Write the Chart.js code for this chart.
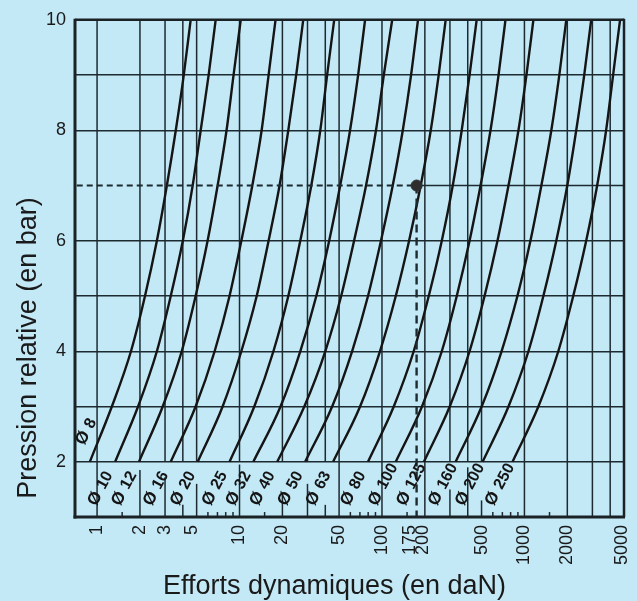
<!DOCTYPE html>
<html>
<head>
<meta charset="utf-8">
<script src="https://cdn.jsdelivr.net/npm/chart.js@4.4.1/dist/chart.umd.min.js"></script>
<style>
html,body{margin:0;padding:0;background:#c3e8f6;}
canvas{display:block;}
</style>
</head>
<body>
<canvas id="c" width="637" height="601"></canvas>
<script>
// ---------- data ----------
const pressures = [2, 3, 4, 5, 6, 7, 8, 9, 10];            // bar
const diameters = [8, 10, 12, 16, 20, 25, 32, 40, 50, 63, 80, 100, 125, 160, 200, 250];
// dynamic force (daN) of each cylinder at the pressures above
const f8   = [0.89, 1.27, 1.73, 2.17, 2.63, 3.09, 3.57, 4.06, 4.54];
const f10  = [1.34, 1.94, 2.63, 3.29, 4.00, 4.69, 5.34, 6.07, 6.80];
const f12  = [1.97, 2.89, 3.93, 4.92, 5.97, 7.02, 8.11, 9.08, 10.2];
const f16  = [3.29, 4.92, 6.69, 8.51, 10.3, 12.3, 14.3, 16.0, 17.9];
const f20  = [5.09, 7.61, 10.3, 13.2, 16.0, 19.1, 22.0, 25.0, 28.0];
const f25  = [8.51, 12.7, 17.3, 22.0, 26.7, 31.9, 36.9, 41.2, 46.2];
const f32  = [12.5, 19.4, 26.7, 34.6, 42.6, 50.9, 59.7, 68.0, 76.1];
const f40  = [18.4, 28.5, 40.0, 51.7, 63.7, 77.3, 90.8, 103, 118];
const f50  = [28.9, 44.7, 61.7, 79.8, 98.4, 119, 140, 160, 179];
const f63  = [45.4, 70.2, 96.8, 125, 155, 187, 220, 250, 280];
const f80  = [79.8, 121, 167, 213, 263, 314, 363, 412, 462];
const f100 = [125, 191, 263, 335, 412, 492, 578, 658, 736];
const f125 = [197, 299, 412, 525, 647, 773, 908, 1033, 1156];
const f160 = [329, 501, 691, 893, 1102, 1315, 1545, 1757, 1967];
const f200 = [509, 773, 1067, 1358, 1674, 1999, 2310, 2628, 2942];
const f250 = [825, 1253, 1729, 2201, 2714, 3240, 3745, 4192, 4692];
const forces = [f8, f10, f12, f16, f20, f25, f32, f40, f50, f63, f80, f100, f125, f160, f200, f250];

// worked example
const exampleForce = 175;     // daN
const examplePressure = 7;    // bar

// axes
const X_MIN = 0.72, X_MAX = 5000, Y_MIN = 1, Y_MAX = 10;
const xTickLabels = [1, 2, 3, 5, 10, 20, 50, 100, 175, 200, 500, 1000, 2000, 5000];
const xGridValues = [1, 2, 3, 4, 5, 10, 20, 30, 40, 50, 100, 200, 300, 400, 500, 1000, 2000, 3000, 4000];
const yTickLabels = [2, 4, 6, 8, 10];
const yGridValues = [1, 2, 3, 4, 5, 6, 7, 8, 9, 10];
const bandTickValues = [1, 1.5, 2, 3, 4, 5, 6, 7, 8, 9, 10, 15, 20, 30, 40, 50, 60, 70, 80, 90,
  100, 150, 200, 300, 400, 500, 600, 700, 800, 900, 1000, 1500, 2000, 3000, 4000];
const xTitle = 'Efforts dynamiques (en daN)';
const yTitle = 'Pression relative (en bar)';

// ---------- styles ----------
const BG = '#c3e8f6';
const GRID = '#1d2a30';
const INK = '#151515';
const FONT = '"Liberation Sans", Arial, Helvetica, sans-serif';
// heights (in bar) of the little marks in the band under 2 bar
const bandTickTops = [2, 1.09, 1.85, 1.72, 1.22, 1.6, 1.09, 1.09, 1.09, 1.09, 1.95, 1.09, 1.45, 1.6, 1.22, 2,
  1.09, 1.09, 1.09, 1.09, 2, 1.09, 2, 1.5, 1.9, 1.3, 1.09, 1.09, 1.09, 1.09, 2, 1.09, 2, 2, 2];
const labelNudge = {5: -5, 175: -6.5, 200: -2, 5000: -2};

// ---------- datasets ----------
const datasets = [];
datasets.push({
  label: 'point', data: [{x: exampleForce, y: examplePressure}],
  pointRadius: 5.5, pointBackgroundColor: '#2e2e2e', pointBorderColor: '#2e2e2e',
  showLine: false, order: 0
});
datasets.push({
  label: 'dashH', data: [{x: X_MIN, y: examplePressure}, {x: exampleForce, y: examplePressure}],
  showLine: true, borderColor: GRID, borderWidth: 2, borderDash: [6, 4], pointRadius: 0, tension: 0, order: 1
});
datasets.push({
  label: 'dashV', data: [{x: exampleForce, y: examplePressure}, {x: exampleForce, y: Y_MIN}],
  showLine: true, borderColor: GRID, borderWidth: 2.4, borderDash: [8, 5], pointRadius: 0, tension: 0, order: 1
});
diameters.forEach((d, i) => {
  datasets.push({
    label: 'Ø ' + d,
    data: pressures.map((p, k) => ({x: forces[i][k], y: p})),
    showLine: true, borderColor: INK, borderWidth: 2.4, pointRadius: 0,
    cubicInterpolationMode: 'monotone', order: 2
  });
});
datasets.push({
  label: 'grid7', data: [{x: exampleForce, y: examplePressure}, {x: X_MAX, y: examplePressure}],
  showLine: true, borderColor: GRID, borderWidth: 1.5, pointRadius: 0, tension: 0, order: 3
});

// ---------- decoration plugin ----------
const deco = {
  id: 'deco',
  beforeDraw(chart) {
    const {ctx, width, height} = chart;
    ctx.save();
    ctx.fillStyle = BG;
    ctx.fillRect(0, 0, width, height);
    ctx.restore();
  },
  beforeDatasetsDraw(chart) {
    const {ctx, scales: {x, y}} = chart;
    ctx.save();
    ctx.strokeStyle = GRID;
    ctx.lineWidth = 1.5;
    const y2 = y.getPixelForValue(2), y10 = y.getPixelForValue(10), yb = y.getPixelForValue(Y_MIN);
    xGridValues.forEach(v => {
      const px = x.getPixelForValue(v);
      ctx.beginPath(); ctx.moveTo(px, y10); ctx.lineTo(px, y2); ctx.stroke();
    });
    bandTickValues.forEach((v, i) => {
      const px = x.getPixelForValue(v);
      ctx.beginPath(); ctx.moveTo(px, yb); ctx.lineTo(px, y.getPixelForValue(bandTickTops[i])); ctx.stroke();
    });
    ctx.restore();
  },
  afterDatasetsDraw(chart) {
    const {ctx, chartArea: a, scales: {x, y}} = chart;
    ctx.save();
    // frame
    ctx.strokeStyle = '#1a2226';
    ctx.lineWidth = 3;
    ctx.beginPath(); ctx.moveTo(a.left, a.top - 1); ctx.lineTo(a.left, a.bottom + 1.5); ctx.stroke();
    ctx.beginPath(); ctx.moveTo(a.left - 1.5, a.bottom); ctx.lineTo(a.right + 1, a.bottom); ctx.stroke();
    ctx.lineWidth = 2.5;
    ctx.beginPath(); ctx.moveTo(a.left, a.top); ctx.lineTo(a.right, a.top); ctx.stroke();
    ctx.beginPath(); ctx.moveTo(a.right, a.top - 1); ctx.lineTo(a.right, a.bottom); ctx.stroke();

    // diameter labels
    ctx.fillStyle = INK;
    ctx.textBaseline = 'middle';
    diameters.forEach((d, i) => {
      const first = forces[i][0];
      let cx, cy;
      if (i === 0) { cx = x.getPixelForValue(first) - 7; cy = y.getPixelForValue(2.43); }
      else { cx = x.getPixelForValue(first) - 20; cy = y.getPixelForValue(1.33); }
      ctx.save();
      ctx.translate(cx, cy);
      ctx.rotate(-62 * Math.PI / 180);
      ctx.textAlign = 'center';
      ctx.font = 'bold 17px ' + FONT;
      ctx.fillText('Ø', 0, 0);
      ctx.font = 'bold 16px ' + FONT;
      ctx.textAlign = 'left';
      ctx.fillText(String(d), 12, 0);
      ctx.restore();
    });

    // x tick labels (rotated)
    ctx.font = '18px ' + FONT;
    ctx.fillStyle = '#1a1a1a';
    xTickLabels.forEach(v => {
      const px = x.getPixelForValue(v) + (labelNudge[v] || 0);
      ctx.save();
      ctx.translate(px, a.bottom + 8);
      ctx.rotate(-Math.PI / 2);
      ctx.textAlign = 'right';
      ctx.textBaseline = 'middle';
      ctx.fillText(String(v), 0, 0);
      ctx.restore();
    });

    // axis titles
    ctx.font = '27px ' + FONT;
    ctx.textAlign = 'center';
    ctx.textBaseline = 'alphabetic';
    ctx.fillText(xTitle, 334.5, 594);
    ctx.save();
    ctx.translate(35.5, 348);
    ctx.rotate(-Math.PI / 2);
    ctx.fillText(yTitle, 0, 0);
    ctx.restore();
    ctx.restore();
  }
};

new Chart(document.getElementById('c'), {
  type: 'scatter',
  data: {datasets},
  options: {
    responsive: false,
    devicePixelRatio: 1,
    animation: false,
    events: [],
    layout: {padding: {top: 15, right: 13, left: 0, bottom: 0}},
    plugins: {legend: {display: false}, tooltip: {enabled: false}},
    scales: {
      x: {
        type: 'logarithmic', min: X_MIN, max: X_MAX,
        grid: {display: false}, border: {display: false},
        ticks: {display: false},
        afterFit(s) { s.height = 84; }
      },
      y: {
        type: 'linear', min: Y_MIN, max: Y_MAX,
        afterBuildTicks(s) { s.ticks = yGridValues.map(v => ({value: v})); },
        ticks: {
          autoSkip: false,
          callback: v => yTickLabels.includes(v) ? String(v) : '',
          font: {family: FONT, size: 18}, color: '#1a1a1a', padding: 9
        },
        grid: {
          color: c => (c.tick && (c.tick.value === 7 || c.tick.value === 1)) ? 'rgba(0,0,0,0)' : GRID,
          lineWidth: 1.5, drawTicks: false
        },
        border: {display: false},
        afterFit(s) { s.width = 75; }
      }
    }
  },
  plugins: [deco]
});
</script>
</body>
</html>
